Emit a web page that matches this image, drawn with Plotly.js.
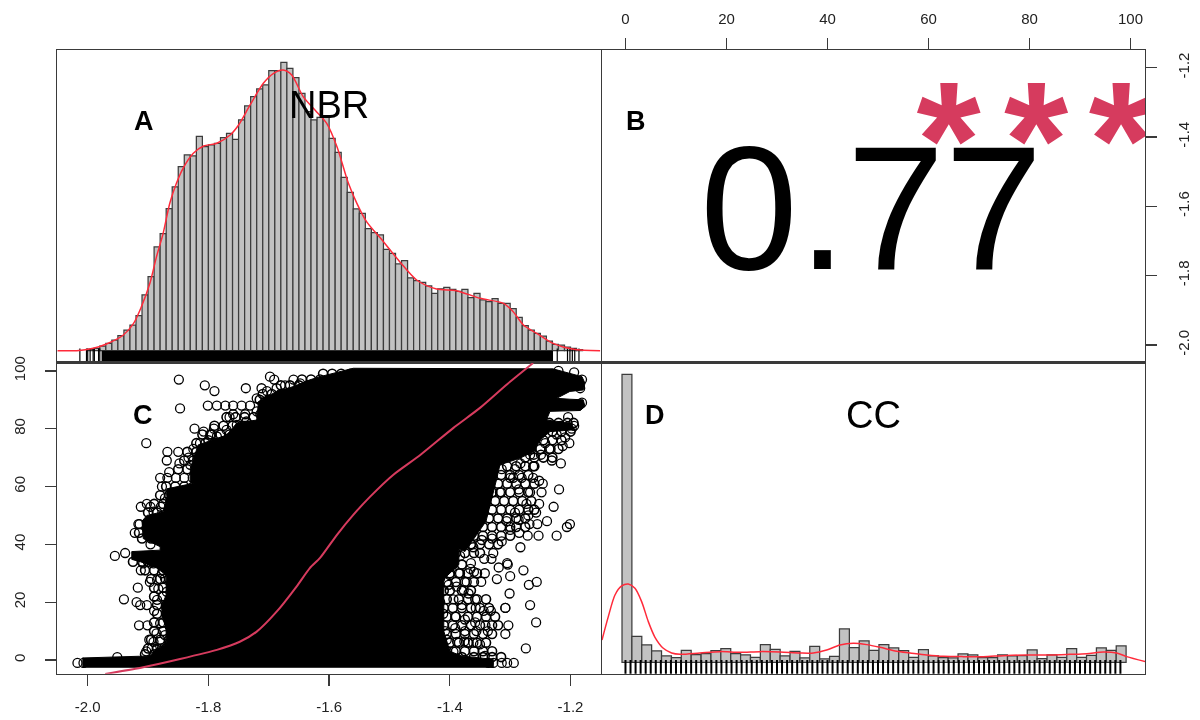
<!DOCTYPE html>
<html><head><meta charset="utf-8">
<script src="https://cdn.plot.ly/plotly-3.0.1.min.js"></script>
<style>html,body{margin:0;padding:0;background:#fff}#g{width:1200px;height:720px;filter:blur(0.5px)}</style>
</head><body><div id="g"></div>
<script>
// ---------- NBR histogram (panel A)
const nbrBins=[-1.995,-1.985,-1.975,-1.965,-1.955,-1.945,-1.935,-1.925,-1.915,-1.905,-1.895,-1.885,-1.875,-1.865,-1.855,-1.845,-1.835,-1.825,-1.815,-1.805,-1.795,-1.785,-1.775,-1.765,-1.755,-1.745,-1.735,-1.725,-1.715,-1.705,-1.695,-1.685,-1.675,-1.665,-1.655,-1.645,-1.635,-1.625,-1.615,-1.605,-1.595,-1.585,-1.575,-1.565,-1.555,-1.545,-1.535,-1.525,-1.515,-1.505,-1.495,-1.485,-1.475,-1.465,-1.455,-1.445,-1.435,-1.425,-1.415,-1.405,-1.395,-1.385,-1.375,-1.365,-1.355,-1.345,-1.335,-1.325,-1.315,-1.305,-1.295,-1.285,-1.275,-1.265,-1.255,-1.245,-1.235,-1.225,-1.215,-1.205,-1.195,-1.185];
const nbrCounts=[4,7,14,22,32,45,62,77,105,167,222,311,351,426,491,552,587,584,643,612,617,622,639,652,634,692,734,762,785,797,840,840,865,847,819,772,717,692,700,702,637,595,520,475,425,412,366,354,347,304,292,260,270,218,210,205,194,172,185,190,184,178,184,159,172,152,147,156,142,142,126,100,75,62,52,44,29,19,17,11,7,3];
const nbrDensX=[-2.05,-2.018,-1.991,-1.969,-1.941,-1.924,-1.911,-1.897,-1.886,-1.875,-1.864,-1.853,-1.842,-1.825,-1.808,-1.786,-1.764,-1.75,-1.731,-1.709,-1.692,-1.676,-1.662,-1.643,-1.621,-1.604,-1.587,-1.568,-1.554,-1.538,-1.51,-1.483,-1.455,-1.422,-1.389,-1.35,-1.311,-1.295,-1.278,-1.256,-1.229,-1.195,-1.151];
const nbrDensY=[0,0,7,20,47,82,132,202,282,352,442,502,547,592,614,622,647,677,737,802,832,842,827,762,717,682,612,502,442,387,327,267,212,185,180,157,142,117,77,52,22,4,0];
const nbrRugTicks=[-2.013,-2.002,-2,-1.996,-1.991,-1.989,-1.982,-1.98,-1.222,-1.205,-1.201,-1.197,-1.193,-1.186];
const nbrRugSolid=[-1.977,-1.229];
// ---------- CC histogram (panel D)
const ccBins=[0.29,2.25,4.2,6.16,8.12,10.07,12.03,13.99,15.95,17.9,19.86,21.82,23.77,25.73,27.69,29.65,31.6,33.56,35.52,37.47,39.43,41.39,43.35,45.3,47.26,49.22,51.17,53.13,55.09,57.05,59,60.96,62.92,64.87,66.83,68.79,70.75,72.7,74.66,76.62,78.57,80.53,82.49,84.45,86.4,88.36,90.32,92.27,94.23,96.19,98.15];
const ccCounts=[864,78,52,34,19,14,36,23,26,35,41,26,22,15,53,39,19,33,13,48,10,18,100,44,64,36,53,43,35,15,38,19,14,13,25,22,14,14,22,19,20,37,11,22,15,41,15,21,43,36,49];
const ccDensX=[-4.65,-3.4,-2.08,-0.76,0.56,1.88,3.2,4.52,5.84,7.49,9.14,10.79,14.75,18.71,22.67,26.63,30.6,34.55,37.19,39.83,42.47,45.12,47.75,50.4,53.7,56.34,59.64,62.94,66.9,70.86,74.82,79.44,84.06,88.02,91.32,94.62,97.26,99.25,102.9];
const ccDensY=[67,137,202,229,235,222,182,122,75,42,28,24,28,32,30,32,31,28,28,37,52,57,53,45,33,28,22,18,17,17,20,22,22,24,26,31,28,17,2];
const ccRug=[0,1,2,3,4,5,6,7,8,9,10,11,12,13,14,15,16,17,18,19,20,21,22,23,24,25,26,27,28,29,30,31,32,33,34,35,36,37,38,39,40,41,42,43,44,45,46,47,48,49,50,51,52,53,54,55,56,57,58,59,60,61,62,63,64,65,66,67,68,69,70,71,72,73,74,75,76,77,78,79,80,81,82,83,84,85,86,87,88,89,90,91,92,93,94,95,96,97,98];
// ---------- Scatter (panel C): solid overplotted core, then individually read circles
const coreNBR=[-2.009,-1.911,-1.897,-1.886,-1.87,-1.87,-1.875,-1.878,-1.87,-1.87,-1.889,-1.913,-1.927,-1.927,-1.88,-1.88,-1.908,-1.91,-1.902,-1.875,-1.869,-1.869,-1.825,-1.83,-1.83,-1.817,-1.77,-1.753,-1.72,-1.717,-1.687,-1.659,-1.632,-1.615,-1.56,-1.229,-1.212,-1.181,-1.176,-1.179,-1.201,-1.223,-1.201,-1.179,-1.176,-1.184,-1.234,-1.24,-1.198,-1.195,-1.234,-1.25,-1.262,-1.284,-1.317,-1.322,-1.34,-1.375,-1.385,-1.385,-1.41,-1.41,-1.41,-1.40,-1.38,-1.328,-1.328,-2.009];
const coreCC=[0.7,1.15,1.4,4,5.2,11.5,13.8,18.5,22.5,29.4,32.3,34,34.8,37.5,38,39.2,42,48,50,51.3,56.5,59.2,61.1,61.7,66.3,74.4,77.8,81.9,83,89.4,92.9,94.6,96.9,98,100.9,100.7,99.8,98,95.7,93.4,92.9,90.5,90.2,90,87.7,86.3,86,83,81.9,79.6,79,76.1,72,69.8,67.5,62.9,48,37.5,38.6,33,28,22,10,3,1.4,0.2,-2.5,-2.5];
const circleNBR=[-1.849,-1.806,-1.79,-1.738,-1.847,-1.801,-1.786,-1.772,-1.759,-1.745,-1.731,-1.765,-1.759,-1.739,-1.714,-1.823,-1.808,-1.791,-1.797,-1.903,-1.825,-1.868,-1.85,-1.869,-1.848,-1.833,-1.865,-1.88,-1.868,-1.854,-1.84,-1.826,-1.877,-1.902,-1.912,-1.896,-1.879,-1.914,-1.922,-1.896,-1.938,-1.955,-1.698,-1.691,-1.712,-1.659,
-1.916,-1.912,-1.897,-1.917,-1.94,-1.919,-1.913,-1.902,-1.89,-1.915,-1.901,-1.898,-1.903,-1.885,-1.872,-1.861,-1.883,-1.869,-1.856,-1.885,-1.877,-1.891,-1.908,-1.88,-1.864,-1.85,-1.886,-1.872,-1.855,-1.891,-1.88,-1.864,-1.847,-1.894,-1.877,-1.951,-2.017,-2.007,
-1.814,-1.8,-1.786,-1.77,-1.753,-1.737,-1.72,-1.706,-1.72,-1.703,-1.687,-1.673,-1.648,-1.83,-1.817,-1.814,-1.797,-1.781,-1.806,-1.786,-1.77,-1.753,-1.745,-1.764,-1.75,-1.737,-1.72,-1.872,-1.858,-1.841,-1.825,-1.808,-1.891,
-1.204,-1.194,-1.198,-1.223,-1.202,-1.213,-1.233,-1.209,-1.231,-1.216,-1.262,-1.283,-1.292,-1.249,-1.261,-1.219,-1.252,-1.246,-1.248,-1.267,-1.262,-1.281,-1.295,-1.228,-1.252,-1.257,-1.27,-1.239,-1.201,-1.206,-1.268,-1.255,-1.223,-1.253,-1.271,-1.285,-1.283,-1.314,-1.3,-1.328,-1.343,-1.331,-1.305,-1.365,-1.361,-1.33,-1.347,-1.306,-1.286,-1.292,-1.273,-1.286,-1.317,-1.3,-1.314,-1.267,-1.242,-1.256,-1.217,-1.194,-1.181,-1.184,-1.181,-1.187,-1.22,
-1.304,-1.319,-1.278,-1.342,-1.36,-1.366,-1.3,-1.322,-1.348,-1.256,-1.269,-1.372,-1.301,-1.369,-1.267,-1.308,-1.308,-1.332,-1.344,-1.358,-1.357,-1.257,-1.303,-1.308,-1.337,-1.341,-1.356,-1.375,-1.358,-1.274,-1.35,-1.361,-1.369,-1.376,-1.342,-1.294,-1.305,-1.314,-1.328,-1.336,
-1.394,-1.38,-1.416,-1.427,-1.444,-1.433,-1.411,-1.391,-1.375,-1.444,-1.424,-1.408,-1.391,-1.455,-1.438,-1.422,-1.405,-1.388,-1.444,-1.427,-1.411,-1.394,-1.458,-1.46,-1.474,-1.466,-1.477,-1.433,-1.416,-1.4,-1.383,-1.402,-1.389,-1.377,-1.449,-1.466,-1.394,-1.383,-1.416,-1.405,-1.427,-1.364];
const circleCC=[97,95,93,94,87,88,88,88,88,88,88,84,85,85,85,80,79,80,78,75,73,72,72,69,68,70,65,63,63,63,63,63,60,54,53,53,53,47,44,40,37,36,98,97,94,97,
47,31,27,25,21,20,19,19,17,12,12,7,3,27.7,28.3,26.5,24.6,23.6,24.8,20.8,30,33.4,33.4,12.7,11.5,11.5,9.2,8.6,8,6.3,6.3,5.8,6.3,4,4,1,-1,-1,
75,76,77.3,79.6,81.3,82.5,86,89.4,90.5,93,94,95,95.7,67.5,70.4,65,72,73,67.5,68.6,69.8,73,76,64,63,63,62.3,56,55,55.4,55,54.8,51.3,
84,81,80,78,75,74,73,77,69,68,67,68,66,71,71,59,62,61,58,58,63,63,63,53,54,51,50,48,47,46,47,47,43,43,43,44,39,41,45,37,35,35,33.5,33.5,39,42,41.5,48,48.5,51,54,59,58,63,66,71,75,77,81,99.5,97,94,89,88,100,
33,32,31,30,30.5,31.5,29,28,27,27,26,27,23,23,19,18,18,17,17,21,18,13,12,9,10,12,10,10,13,4,5.4,6,6,6.4,1.4,-1,-1,-1,-1,-1,
21,19,20,22,19.6,17,16,15,14,13.8,11.5,10,11,9,8,7.5,7,6.3,4.6,4.4,3.5,2.9,3.5,18.4,16,12.7,9.2,25.4,28.3,29.4,30,26,25.4,24.2,24.2,25.4,37,36,33,34,37.5,40];
// densely overplotted rows along the edge of the cloud: [CC, [NBR...]]
const denseRows=[
[33,[-1.44,-1.425,-1.41,-1.395,-1.38]],[30,[-1.43,-1.415,-1.4,-1.385,-1.37,-1.355]],[27,[-1.44,-1.42,-1.405,-1.39,-1.375,-1.36]],
[24,[-1.43,-1.41,-1.4,-1.38,-1.365]],[21,[-1.42,-1.405,-1.385,-1.37,-1.355,-1.34]],[18,[-1.43,-1.41,-1.395,-1.38,-1.365,-1.35,-1.335]],
[15,[-1.42,-1.405,-1.39,-1.37,-1.355,-1.34,-1.325]],[12,[-1.425,-1.41,-1.395,-1.38,-1.365,-1.35,-1.33,-1.32]],[9,[-1.42,-1.405,-1.39,-1.375,-1.36,-1.345,-1.33]],
[6,[-1.42,-1.4,-1.385,-1.37,-1.355,-1.34]],[3,[-1.42,-1.405,-1.39,-1.375,-1.36,-1.345,-1.33]],[1,[-1.38,-1.36,-1.345,-1.33,-1.315]],
[37,[-1.39,-1.375,-1.36,-1.35]],[40,[-1.38,-1.365,-1.35,-1.335,-1.32]],[43,[-1.36,-1.345,-1.33,-1.315,-1.3]],[46,[-1.345,-1.33,-1.315,-1.3,-1.29,-1.275]],
[49,[-1.335,-1.32,-1.305,-1.29,-1.275]],[52,[-1.33,-1.315,-1.3,-1.285,-1.27,-1.26]],[55,[-1.325,-1.31,-1.295,-1.28,-1.265]],[58,[-1.33,-1.315,-1.3,-1.285,-1.27]],
[61,[-1.32,-1.305,-1.29,-1.275,-1.26]],[64,[-1.315,-1.3,-1.285,-1.27]],[67,[-1.305,-1.29,-1.275,-1.26]],[70,[-1.275,-1.26,-1.245,-1.23]],[73,[-1.265,-1.25,-1.235,-1.22]],
[76,[-1.245,-1.23,-1.215]],[79,[-1.23,-1.215,-1.2]],[82,[-1.235,-1.22,-1.205,-1.195]],
[84,[-1.77,-1.755,-1.74,-1.725]],[81,[-1.79,-1.775,-1.76,-1.745,-1.73]],[78,[-1.81,-1.795,-1.78,-1.765,-1.75]],[75,[-1.82,-1.805,-1.79,-1.775]],[72,[-1.835,-1.82,-1.805,-1.79]],
[69,[-1.84,-1.825,-1.81,-1.795]],[66,[-1.85,-1.835,-1.82]],[63,[-1.81,-1.795,-1.78]],[90,[-1.715,-1.7]],[92,[-1.71,-1.695,-1.68]],[95,[-1.68,-1.665,-1.65,-1.635]],[97,[-1.645,-1.63,-1.615]],[99,[-1.61,-1.595,-1.58,-1.565]],
[57,[-1.88,-1.865,-1.85,-1.835]],[60,[-1.87,-1.855,-1.84,-1.825]],[54,[-1.89,-1.875,-1.86,-1.845]],[51,[-1.9,-1.885]],[44,[-1.915]],[42,[-1.91,-1.895]],
[34,[-1.925,-1.91,-1.9,-1.89]],[31,[-1.905,-1.89,-1.875]],[28,[-1.895,-1.88,-1.865]],[25,[-1.89,-1.875,-1.86]],[22,[-1.89,-1.875,-1.86]],[19,[-1.885,-1.87,-1.855]],[16,[-1.885,-1.87,-1.855]],
[13,[-1.89,-1.875,-1.86,-1.845]],[10,[-1.89,-1.875,-1.86,-1.845]],[7,[-1.895,-1.88,-1.865,-1.85]],[4,[-1.9,-1.885,-1.87,-1.855]],[2,[-1.905,-1.89,-1.875]]
];
const loessNBR=[-1.971,-1.908,-1.847,-1.786,-1.748,-1.72,-1.687,-1.654,-1.632,-1.615,-1.587,-1.56,-1.532,-1.494,-1.449,-1.394,-1.35,-1.306,-1.262];
const loessCC=[-4.84,-2.5,0.35,3.5,6.3,9.8,16.7,25.4,31.8,35.3,43.3,50.2,56.5,64,70.9,80.3,87.2,95.2,102.7];
// ---------- Ticks and text
const nbrTicks=[-2,-1.8,-1.6,-1.4,-1.2];
const nbrTickText=['-2.0','-1.8','-1.6','-1.4','-1.2'];
const ccTicks=[0,20,40,60,80,100];
const ccTickText=['0','20','40','60','80','100'];
const corrText='0.77', starText=['*','*','*'];
const starCC=[64,81.3,98.1], starNBR=[-1.455,-1.455,-1.455];

const FONT='"Liberation Sans", Arial, sans-serif';
const LINE='#3a3a3a', BAR='#c2c2c2', BAREDGE='#3c3c3c', RED='#ff2a3a', CRIM='#d63b5e';
const px=v=>v/1200, py=v=>1-v/720;
const xA=[px(57),px(601)], xB=[px(602),px(1145)];
const yT=[py(362.5),py(50.3)], yB=[py(673.7),py(362.5)];
const base={showgrid:false,zeroline:false,showline:true,mirror:true,linecolor:LINE,linewidth:1.4,ticks:'',showticklabels:false,fixedrange:true};
const tk={ticks:'outside',ticklen:11,tickwidth:1.3,tickcolor:'#3a3a3a',showticklabels:true,tickfont:{family:FONT,size:15,color:'#222'}};
const nbrR=[-2.0509,-1.1495], ccR=[-4.65,102.87];
const rowX=denseRows.flatMap(r=>r[1]), rowY=denseRows.flatMap(r=>r[1].map(()=>r[0]));

const traces=[
 {type:'bar',x:nbrBins,y:nbrCounts,width:0.01,marker:{color:BAR,line:{color:BAREDGE,width:1.25}},xaxis:'x',yaxis:'y'},
 {type:'scatter',mode:'lines',x:nbrRugSolid,y:[-17.5,-17.5],line:{color:'#000',width:11.5},xaxis:'x',yaxis:'y'},
 {type:'scatter',mode:'markers',x:nbrRugTicks,y:nbrRugTicks.map(()=>-17.5),marker:{symbol:'line-ns',color:'#000',size:11.5,line:{color:'#000',width:1.2}},xaxis:'x',yaxis:'y'},
 {type:'scatter',mode:'lines',x:nbrDensX,y:nbrDensY,line:{color:RED,width:1.5,shape:'spline',smoothing:0.8},xaxis:'x',yaxis:'y'},

 {type:'scatter',mode:'text',x:starCC,y:starNBR,text:starText,textposition:'middle center',cliponaxis:true,textfont:{family:FONT,size:165,weight:700,color:CRIM},xaxis:'x2',yaxis:'y2'},

 {type:'scatter',mode:'lines',x:coreNBR,y:coreCC,fill:'toself',fillcolor:'#000',line:{color:'#000',width:1},xaxis:'x3',yaxis:'y3'},
 {type:'scatter',mode:'markers',x:rowX,y:rowY,marker:{symbol:'circle-open',color:'#000',size:9,line:{color:'#000',width:1.6}},xaxis:'x3',yaxis:'y3'},
 {type:'scatter',mode:'markers',x:circleNBR,y:circleCC,marker:{symbol:'circle-open',color:'#000',size:9,line:{color:'#000',width:1.3}},xaxis:'x3',yaxis:'y3'},
 {type:'scatter',mode:'lines',x:loessNBR,y:loessCC,line:{color:CRIM,width:2,shape:'spline',smoothing:0.6},xaxis:'x3',yaxis:'y3'},

 {type:'bar',x:ccBins,y:ccCounts,width:1.957,marker:{color:BAR,line:{color:BAREDGE,width:1.25}},xaxis:'x4',yaxis:'y4'},
 {type:'scatter',mode:'markers',x:ccRug,y:ccRug.map(()=>-17),marker:{symbol:'line-ns',color:'#000',size:11.5,line:{color:'#000',width:2}},xaxis:'x4',yaxis:'y4'},
 {type:'scatter',mode:'lines',x:ccDensX,y:ccDensY,line:{color:RED,width:1.5,shape:'spline',smoothing:0.8},xaxis:'x4',yaxis:'y4'}
];
const ann=(t,x,y,size,bold,color)=>({text:bold?'<b>'+t+'</b>':t,xref:'paper',yref:'paper',x:px(x),y:py(y),xanchor:'center',yanchor:'middle',showarrow:false,font:{family:FONT,size,color:color||'#000'}});
const layout={
 width:1200,height:720,margin:{l:0,r:0,t:0,b:0},paper_bgcolor:'#fff',plot_bgcolor:'#fff',showlegend:false,barmode:'overlay',bargap:0,
 xaxis:{...base,domain:xA,range:nbrR,anchor:'y'},
 yaxis:{...base,domain:yT,range:[-35.5,901],anchor:'x'},
 xaxis2:{...base,...tk,domain:xB,range:ccR,anchor:'y2',side:'top',tickmode:'array',tickvals:ccTicks,ticktext:ccTickText,tickangle:0,ticklabelstandoff:8},
 yaxis2:{...base,...tk,domain:yT,range:[-2.0505,-1.1498],anchor:'x2',side:'right',tickmode:'array',tickvals:nbrTicks,ticktext:nbrTickText,tickangle:-90,ticklabelstandoff:14},
 xaxis3:{...base,...tk,domain:xA,range:nbrR,anchor:'y3',side:'bottom',tickmode:'array',tickvals:nbrTicks,ticktext:nbrTickText,tickangle:0,ticklabelstandoff:8},
 yaxis3:{...base,...tk,domain:yB,range:[-4.74,102.9],anchor:'x3',side:'left',tickmode:'array',tickvals:ccTicks,ticktext:ccTickText,tickangle:-90,ticklabelstandoff:14},
 xaxis4:{...base,domain:xB,range:ccR,anchor:'y4'},
 yaxis4:{...base,domain:yB,range:[-34.2,899.4],anchor:'x4'},
 annotations:[
  ann('A',143.5,121,27,true),ann('B',636,121,27,true),ann('C',143,415,27,true),ann('D',655,415,27,true),
  ann('NBR',329,105,38,false),ann('CC',873,415,38,false),ann(corrText,871,208,176,false)
 ]
};
Plotly.newPlot('g',traces,layout,{displayModeBar:false,responsive:false,staticPlot:true});
</script></body></html>
